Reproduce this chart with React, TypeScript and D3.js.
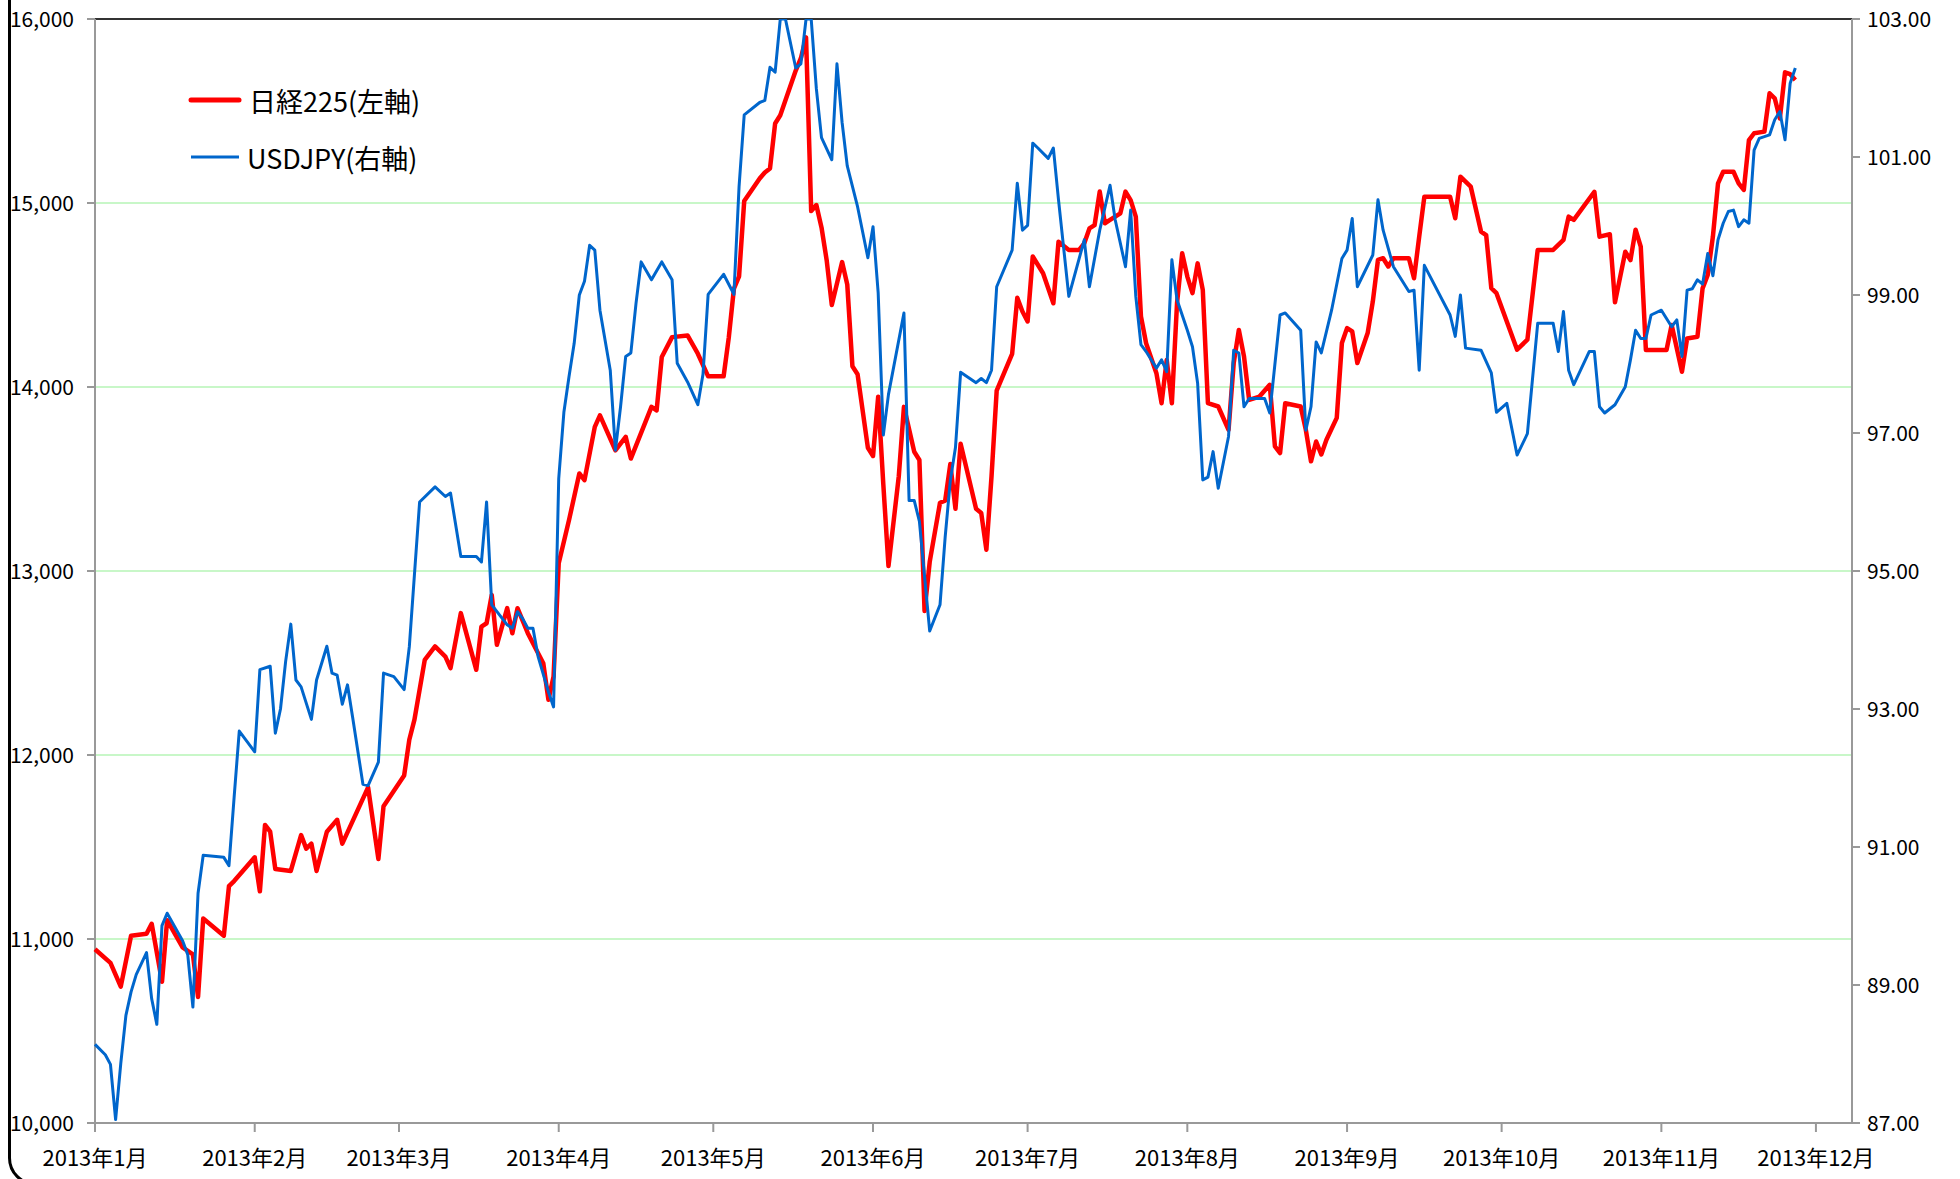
import React, { useEffect, useRef } from 'react'
import * as d3 from 'd3'

// 日経225 (left axis)
const nikkeiDates = ['01-04','01-07','01-09','01-11','01-14','01-15','01-17','01-18','01-21','01-23','01-24','01-25','01-29','01-30','01-31','02-04','02-05','02-06','02-07','02-08','02-11','02-13','02-14','02-15','02-16','02-18','02-20','02-21','02-26','02-28','03-01','03-05','03-06','03-07','03-09','03-11','03-13','03-14','03-16','03-19','03-20','03-21','03-22','03-23','03-25','03-26','03-27','03-29','04-01','04-02','04-03','04-04','04-06','04-08','04-09','04-11','04-12','04-15','04-17','04-18','04-22','04-23','04-24','04-26','04-29','05-01','05-03','05-06','05-07','05-08','05-09','05-10','05-13','05-14','05-15','05-16','05-17','05-20','05-21','05-22','05-23','05-24','05-25','05-26','05-27','05-29','05-30','05-31','06-01','06-03','06-04','06-05','06-06','06-07','06-09','06-10','06-12','06-13','06-14','06-15','06-17','06-18','06-19','06-20','06-21','06-24','06-25','06-26','06-27','06-28','07-01','07-02','07-03','07-04','07-05','07-07','07-09','07-10','07-12','07-14','07-15','07-16','07-17','07-18','07-19','07-20','07-22','07-23','07-24','07-25','07-26','07-27','07-29','07-30','07-31','08-01','08-02','08-03','08-04','08-05','08-06','08-07','08-08','08-10','08-12','08-13','08-14','08-15','08-16','08-18','08-20','08-21','08-22','08-23','08-26','08-27','08-28','08-29','08-30','08-31','09-02','09-03','09-04','09-05','09-06','09-08','09-09','09-10','09-11','09-12','09-13','09-16','09-17','09-18','09-19','09-24','09-25','09-26','09-28','09-30','10-01','10-02','10-03','10-07','10-09','10-11','10-14','10-16','10-17','10-18','10-22','10-23','10-25','10-26','10-28','10-29','10-30','10-31','11-01','11-05','11-06','11-08','11-09','11-11','11-12','11-13','11-14','11-15','11-16','11-18','11-19','11-20','11-21','11-22','11-24','11-25','11-26','11-27','11-28','11-29','11-30']
const nikkeiValues = [10944,10870,10741,11018,11028,11083,10768,11102,10954,10917,10685,11111,11018,11287,11315,11444,11259,11620,11583,11380,11370,11565,11491,11518,11370,11583,11648,11518,11824,11435,11722,11889,12083,12192,12517,12590,12535,12472,12771,12463,12698,12716,12870,12599,12798,12662,12798,12662,12499,12300,12427,13042,13277,13530,13494,13783,13846,13656,13729,13611,13892,13873,14163,14271,14280,14181,14058,14058,14268,14534,14601,15011,15133,15166,15188,15432,15477,15720,15787,15900,14956,14989,14867,14690,14446,14679,14557,14113,14069,13670,13625,13947,13470,13027,13515,13892,13648,13603,12783,13049,13371,13382,13581,13338,13692,13338,13315,13116,13515,13980,14180,14485,14410,14356,14709,14618,14455,14790,14745,14745,14781,14862,14880,15062,14890,14908,14944,15062,15016,14926,14383,14238,14075,13912,14147,13912,14455,14727,14600,14510,14672,14528,13912,13894,13767,14129,14310,14166,13930,13948,14012,13677,13641,13912,13894,13767,13596,13704,13633,13713,13832,14239,14320,14302,14130,14293,14465,14691,14700,14655,14700,14700,14591,14817,15034,15034,14917,15143,15089,14845,14826,14537,14510,14203,14257,14745,14745,14799,14926,14908,15061,14817,14830,14460,14735,14690,14855,14763,14201,14201,14337,14083,14264,14273,14536,14609,14817,15107,15170,15170,15107,15071,15342,15379,15388,15596,15569,15460,15710,15700,15669]

// USDJPY (right axis)
const usdjpyDates = ['01-04','01-06','01-07','01-08','01-09','01-10','01-11','01-12','01-14','01-15','01-16','01-17','01-18','01-21','01-22','01-23','01-24','01-25','01-29','01-30','01-31','02-01','02-04','02-05','02-07','02-08','02-09','02-10','02-11','02-12','02-13','02-15','02-16','02-18','02-19','02-20','02-21','02-22','02-23','02-25','02-26','02-28','03-01','03-03','03-05','03-06','03-08','03-11','03-13','03-14','03-16','03-19','03-20','03-21','03-22','03-25','03-26','03-27','03-28','03-29','03-30','03-31','04-02','04-03','04-04','04-05','04-06','04-07','04-08','04-09','04-10','04-11','04-12','04-14','04-15','04-16','04-17','04-18','04-19','04-20','04-22','04-24','04-26','04-27','04-29','05-01','05-02','05-03','05-06','05-08','05-09','05-10','05-13','05-14','05-15','05-16','05-17','05-18','05-20','05-21','05-22','05-23','05-24','05-25','05-27','05-28','05-29','05-30','06-01','06-03','06-04','06-05','06-06','06-07','06-10','06-11','06-12','06-13','06-15','06-17','06-18','06-19','06-20','06-21','06-24','06-25','06-26','06-27','06-28','07-01','07-02','07-03','07-04','07-05','07-06','07-08','07-09','07-10','07-12','07-15','07-16','07-18','07-20','07-21','07-23','07-24','07-25','07-26','07-27','07-29','07-30','07-31','08-01','08-02','08-04','08-05','08-06','08-07','08-08','08-09','08-10','08-12','08-13','08-14','08-15','08-16','08-19','08-20','08-22','08-23','08-26','08-27','08-28','08-29','08-30','09-01','09-03','09-04','09-05','09-06','09-09','09-10','09-11','09-13','09-16','09-17','09-18','09-19','09-24','09-25','09-26','09-27','09-30','10-02','10-03','10-05','10-07','10-09','10-11','10-14','10-15','10-16','10-17','10-18','10-21','10-22','10-23','10-24','10-26','10-28','10-29','10-30','10-31','11-01','11-02','11-04','11-06','11-07','11-08','11-09','11-10','11-11','11-12','11-13','11-14','11-15','11-16','11-17','11-18','11-19','11-20','11-21','11-22','11-23','11-25','11-26','11-27','11-28','11-29','11-30']
const usdjpyValues = [88.14,87.99,87.85,87.05,87.86,88.56,88.9,89.15,89.47,88.8,88.43,89.86,90.04,89.64,89.44,88.68,90.33,90.88,90.85,90.73,91.72,92.68,92.38,93.57,93.62,92.65,93.0,93.69,94.23,93.42,93.32,92.85,93.42,93.91,93.52,93.49,93.07,93.35,92.88,91.91,91.89,92.23,93.52,93.47,93.28,93.9,96.0,96.22,96.08,96.13,95.21,95.21,95.13,96.0,94.51,94.22,94.17,94.41,94.31,94.17,94.17,93.76,93.25,93.03,96.34,97.3,97.82,98.3,99.0,99.2,99.72,99.65,98.78,97.91,96.75,97.38,98.11,98.16,98.88,99.48,99.22,99.48,99.22,98.01,97.74,97.41,97.85,99.01,99.3,99.01,100.57,101.61,101.79,101.82,102.3,102.23,103.0,103.0,102.29,102.35,103.0,103.0,101.99,101.28,100.96,102.35,101.5,100.87,100.28,99.54,99.99,99.03,96.97,97.56,98.74,96.02,96.02,95.72,94.13,94.51,95.49,96.31,96.79,97.88,97.73,97.79,97.73,97.91,99.12,99.65,100.62,99.94,100.01,101.2,101.13,100.98,101.13,100.38,98.98,99.8,99.12,99.94,100.59,100.09,99.41,100.23,98.98,98.28,98.18,97.94,98.06,97.89,99.51,98.93,98.49,98.25,97.72,96.32,96.36,96.73,96.2,96.95,98.2,98.16,97.38,97.5,97.5,97.29,98.71,98.74,98.49,97.04,97.38,98.32,98.16,98.78,99.53,99.65,100.11,99.12,99.58,100.38,99.94,99.41,99.05,99.07,97.91,99.43,98.71,98.4,99.0,98.23,98.2,97.87,97.3,97.43,96.68,96.99,98.59,98.59,98.18,98.76,97.91,97.7,98.18,98.18,97.38,97.29,97.41,97.67,98.06,98.49,98.37,98.37,98.71,98.78,98.54,98.64,98.11,99.07,99.09,99.22,99.16,99.6,99.28,99.8,100.04,100.21,100.23,99.99,100.09,100.04,101.1,101.27,101.32,101.54,101.66,101.25,102.07,102.29]

const leftTicks = [10000, 11000, 12000, 13000, 14000, 15000, 16000]
const rightTicks = [87, 89, 91, 93, 95, 97, 99, 101, 103]
const xTickLabels = ['2013年1月', '2013年2月', '2013年3月', '2013年4月', '2013年5月', '2013年6月', '2013年7月', '2013年8月', '2013年9月', '2013年10月', '2013年11月', '2013年12月']
const legendLabels = ['日経225(左軸)', 'USDJPY(右軸)']

const W = 1960
const H = 1179
const FONT = '"Noto Sans CJK JP", "Noto Sans", sans-serif'

const App = () => {
    const ref = useRef<SVGSVGElement | null>(null)

    useEffect(() => {
        const svg = d3.select(ref.current)
        svg.selectAll('*').remove()

        const plot = { left: 95, right: 1852, top: 19, bottom: 1123 }
        const parse = d3.timeParse('%Y-%m-%d')
        const start = parse('2013-01-04') as Date

        const x = d3.scaleTime()
            .domain([start, parse('2013-12-11') as Date])
            .range([plot.left, plot.right])
        const yL = d3.scaleLinear().domain([10000, 16000]).range([plot.bottom, plot.top])
        const yR = d3.scaleLinear().domain([87, 103]).range([plot.bottom, plot.top])

        const nikkei = nikkeiDates.map((d, i) => ({ date: parse('2013-' + d) as Date, value: nikkeiValues[i] }))
        const usdjpy = usdjpyDates.map((d, i) => ({ date: parse('2013-' + d) as Date, value: usdjpyValues[i] }))

        svg.append('rect').attr('width', W).attr('height', H).attr('fill', '#fff')

        // chart area border (left side and rounded corner)
        svg.append('path')
            .attr('d', `M9.5,-5 V1158 A 26 26 0 0 0 35.5 1184`)
            .attr('fill', 'none')
            .attr('stroke', '#000')
            .attr('stroke-width', 3)

        // gridlines
        svg.append('g').selectAll('line')
            .data(leftTicks.filter(t => t > 10000 && t < 16000))
            .enter().append('line')
            .attr('x1', plot.left).attr('x2', plot.right)
            .attr('y1', d => yL(d)).attr('y2', d => yL(d))
            .attr('stroke', '#c8f7c8').attr('stroke-width', 2)

        // top border
        svg.append('line')
            .attr('x1', plot.left).attr('x2', plot.right)
            .attr('y1', plot.top).attr('y2', plot.top)
            .attr('stroke', '#333').attr('stroke-width', 2)

        // axes lines
        const axisColor = '#999'
        svg.append('line').attr('x1', plot.left).attr('x2', plot.left).attr('y1', plot.top).attr('y2', plot.bottom + 1)
            .attr('stroke', axisColor).attr('stroke-width', 2)
        svg.append('line').attr('x1', plot.right).attr('x2', plot.right).attr('y1', plot.top).attr('y2', plot.bottom + 1)
            .attr('stroke', axisColor).attr('stroke-width', 2)
        svg.append('line').attr('x1', plot.left).attr('x2', plot.right).attr('y1', plot.bottom).attr('y2', plot.bottom)
            .attr('stroke', axisColor).attr('stroke-width', 2)

        // left axis
        const gl = svg.append('g')
        leftTicks.forEach(t => {
            gl.append('line').attr('x1', plot.left - 8).attr('x2', plot.left).attr('y1', yL(t)).attr('y2', yL(t))
                .attr('stroke', axisColor).attr('stroke-width', 2)
            gl.append('text').attr('x', 74).attr('y', yL(t) + 2)
                .attr('text-anchor', 'end').attr('dominant-baseline', 'middle')
                .style('font-family', FONT).style('font-size', '21px').attr('fill', '#000')
                .text(d3.format(',')(t))
        })

        // right axis
        const gr = svg.append('g')
        rightTicks.forEach(t => {
            gr.append('line').attr('x1', plot.right).attr('x2', plot.right + 8).attr('y1', yR(t)).attr('y2', yR(t))
                .attr('stroke', axisColor).attr('stroke-width', 2)
            gr.append('text').attr('x', 1867).attr('y', yR(t) + 2)
                .attr('text-anchor', 'start').attr('dominant-baseline', 'middle')
                .style('font-family', FONT).style('font-size', '21px').attr('fill', '#000')
                .text(d3.format('.2f')(t))
        })

        // bottom axis (ticks every month from the first date)
        const gb = svg.append('g')
        xTickLabels.forEach((lab, i) => {
            const px = x(d3.timeMonth.offset(start, i))
            gb.append('line').attr('x1', px).attr('x2', px).attr('y1', plot.bottom).attr('y2', plot.bottom + 9)
                .attr('stroke', axisColor).attr('stroke-width', 2)
            gb.append('text').attr('x', px).attr('y', 1160)
                .attr('text-anchor', 'middle').attr('dominant-baseline', 'middle')
                .style('font-family', FONT).style('font-size', '22px').attr('fill', '#000')
                .text(lab)
        })

        // clip for the series
        svg.append('clipPath').attr('id', 'plotClip')
            .append('rect').attr('x', plot.left - 4).attr('y', plot.top).attr('width', plot.right - plot.left + 8).attr('height', plot.bottom - plot.top)

        const lineL = d3.line<{ date: Date, value: number }>().x(d => x(d.date)).y(d => yL(d.value))
        const lineR = d3.line<{ date: Date, value: number }>().x(d => x(d.date)).y(d => yR(d.value))

        svg.append('path').datum(nikkei)
            .attr('clip-path', 'url(#plotClip)')
            .attr('fill', 'none').attr('stroke', '#ff0000').attr('stroke-width', 4.5)
            .attr('stroke-linejoin', 'round')
            .attr('d', lineL)

        svg.append('path').datum(usdjpy)
            .attr('clip-path', 'url(#plotClip)')
            .attr('fill', 'none').attr('stroke', '#0066cc').attr('stroke-width', 3)
            .attr('stroke-linejoin', 'round')
            .attr('d', lineR)

        // legend
        const lg = svg.append('g')
        lg.append('line').attr('x1', 191).attr('x2', 239).attr('y1', 100).attr('y2', 100)
            .attr('stroke', '#ff0000').attr('stroke-width', 5).attr('stroke-linecap', 'round')
        lg.append('text').attr('x', 249).attr('y', 100).attr('dominant-baseline', 'central')
            .style('font-family', FONT).style('font-size', '27px').attr('fill', '#000')
            .text(legendLabels[0])
        lg.append('line').attr('x1', 191).attr('x2', 239).attr('y1', 157).attr('y2', 157)
            .attr('stroke', '#0066cc').attr('stroke-width', 3)
        lg.append('text').attr('x', 247).attr('y', 157).attr('dominant-baseline', 'central')
            .style('font-family', FONT).style('font-size', '27px').attr('fill', '#000')
            .text(legendLabels[1])
    }, [])

    return (
        <div style={{ position: 'absolute', left: 0, top: 0, width: W, height: H }}>
            <svg ref={ref} width={W} height={H} style={{ display: 'block' }} />
        </div>
    )
}

export default App
